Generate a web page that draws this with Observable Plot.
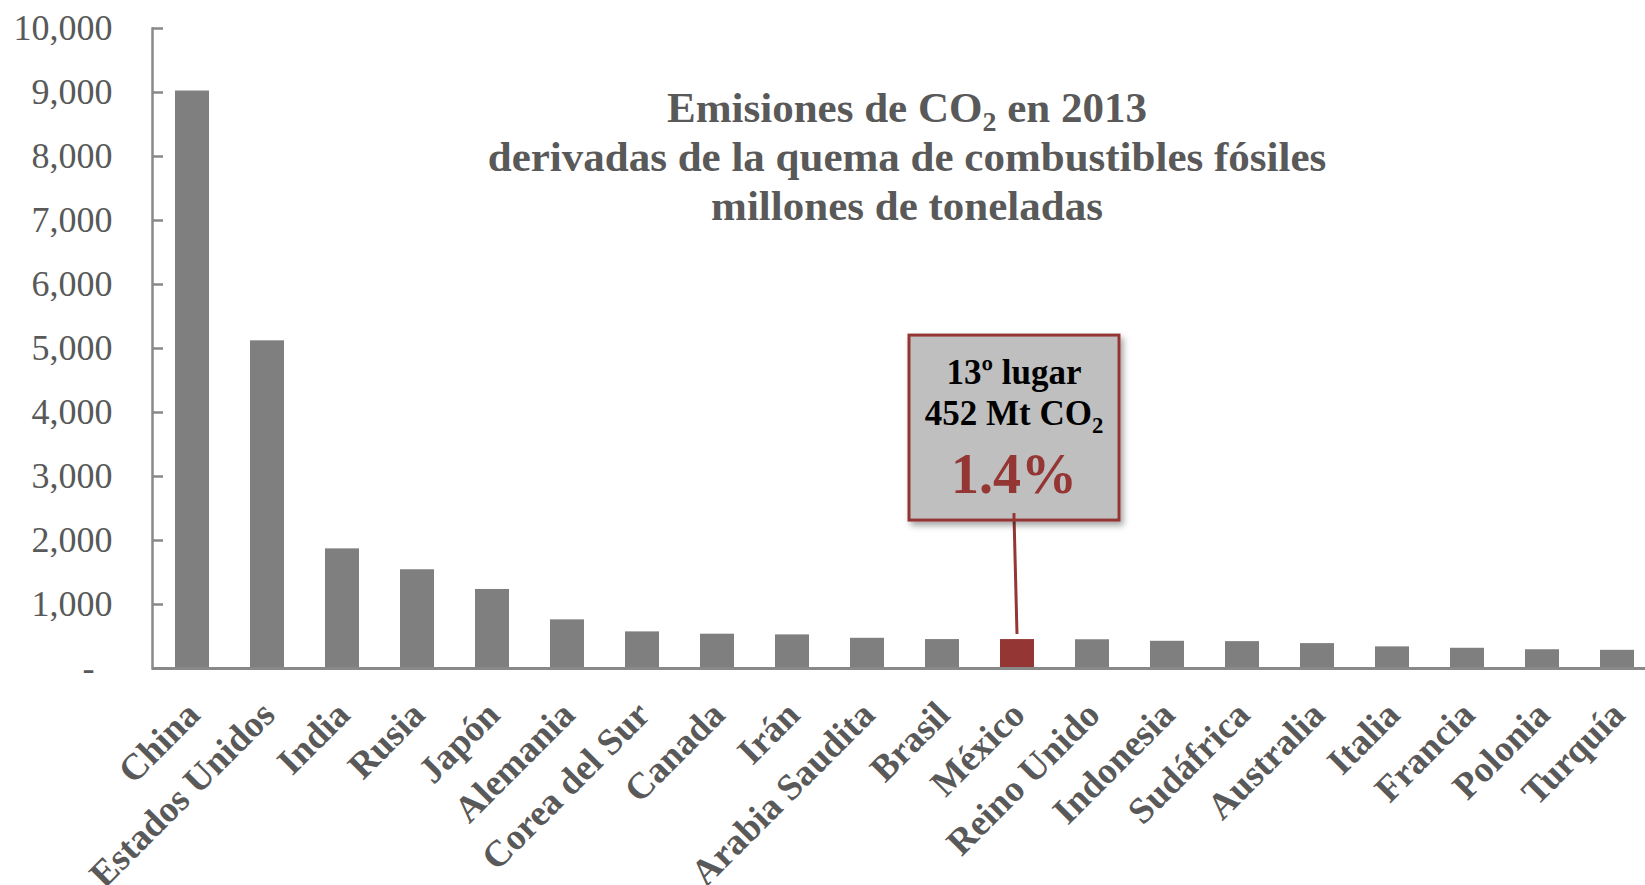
<!DOCTYPE html>
<html><head><meta charset="utf-8">
<script src="https://cdn.jsdelivr.net/npm/d3@7"></script>
<script src="https://cdn.jsdelivr.net/npm/@observablehq/plot@0.6"></script>
<style>body{margin:0;background:#fff;overflow:hidden}</style>
</head><body><div id="chart"></div>
<script>
// ---- data ----
const countries = ["China","Estados Unidos","India","Rusia","Japón","Alemania","Corea del Sur","Canada","Irán","Arabia Saudita","Brasil","México","Reino Unido","Indonesia","Sudáfrica","Australia","Italia","Francia","Polonia","Turquía"];
const emissions = [9023, 5120, 1869, 1543, 1235, 760, 572, 536, 525, 472, 452, 452, 449, 425, 420, 389, 338, 316, 293, 284];
const highlight = "México";
const yTicks = [0,1000,2000,3000,4000,5000,6000,7000,8000,9000,10000];
const titleLines = [["Emisiones de CO","2"," en 2013"],["derivadas de la quema de combustibles fósiles"],["millones de toneladas"]];
const annotationLines = [["13º lugar"],["452 Mt CO","2",""],["1.4%"]];

const data = countries.map((c, i) => ({country: c, value: emissions[i]}));
const serif = "'Liberation Serif','Times New Roman',serif";
const gray = "#7f7f7f", red = "#943634", textGray = "#595959", axisGray = "#898989";

const plot = Plot.plot({
  width: 1645, height: 885,
  marginTop: 28, marginBottom: 217, marginLeft: 152, marginRight: 0,
  style: {fontFamily: serif, background: "#fff"},
  x: {domain: countries, range: [152, 1656], paddingInner: 0.55, paddingOuter: 0.275, axis: null},
  y: {domain: [0, 10000], axis: null},
  marks: [
    Plot.barY(data, {x: "country", y: "value", fill: d => d.country === highlight ? red : gray}),
    Plot.ruleY([0], {stroke: axisGray, strokeWidth: 3}),
    Plot.frame({anchor: "left", stroke: axisGray, strokeWidth: 2.5}),
    Plot.axisY(yTicks, {tickSize: -11, tickFormat: () => "", stroke: axisGray, strokeWidth: 2.5, label: null}),
    Plot.axisY(yTicks, {tickSize: 0, tickPadding: 40, fontSize: 36, fill: textGray, label: null,
      tickFormat: d => d === 0 ? "-\u00a0\u00a0" : d3.format(",")(d)}),
    Plot.text(data, {x: "country", text: "country", frameAnchor: "bottom", rotate: -45, textAnchor: "end",
      lineAnchor: "middle", dx: 1, dy: 40, fontSize: 37, fontWeight: "bold", fill: textGray})
  ]
});
document.getElementById("chart").appendChild(plot);

// ---- title and annotation (layered on the SVG) ----
const svg = d3.select(plot);
const defs = svg.append("defs");
const f = defs.append("filter").attr("id", "shadow").attr("x", "-20%").attr("y", "-20%").attr("width", "150%").attr("height", "150%");
f.append("feDropShadow").attr("dx", 3).attr("dy", 4).attr("stdDeviation", 3).attr("flood-color", "#000").attr("flood-opacity", 0.35);

function richText(g, parts, x, y, size, fill) {
  const t = g.append("text").attr("x", x).attr("y", y).attr("text-anchor", "middle")
    .attr("font-family", serif).attr("font-weight", "bold").attr("font-size", size).attr("fill", fill);
  t.append("tspan").text(parts[0]);
  if (parts.length > 1) {
    t.append("tspan").attr("font-size", size * 0.65).attr("dy", size * 0.22).text(parts[1]);
    t.append("tspan").attr("dy", -size * 0.22).text(parts[2]);
  }
  return t;
}
const tg = svg.append("g");
const titleBaselines = [122, 171, 220];
titleLines.forEach((p, i) => richText(tg, p, 907, titleBaselines[i], 43, textGray));

const xs = plot.scale("x"), ys = plot.scale("y");
const mi = countries.indexOf(highlight);
const cx = xs.apply(highlight) + xs.bandwidth / 2;
const barTop = ys.apply(emissions[mi]);
const boxW = 210, boxH = 185, gap = 119;
const bx = cx - 3 - boxW / 2, by = barTop - gap - boxH;
const ag = svg.append("g");
ag.append("line").attr("x1", cx - 3).attr("y1", by + boxH - 4).attr("x2", cx).attr("y2", barTop - 5)
  .attr("stroke", red).attr("stroke-width", 3);
ag.append("rect").attr("x", bx).attr("y", by).attr("width", boxW).attr("height", boxH)
  .attr("fill", "#bfbfbf").attr("stroke", red).attr("stroke-width", 3).attr("filter", "url(#shadow)");
ag.append("line").attr("x1", cx - 3).attr("y1", by + boxH - 7).attr("x2", cx - 3).attr("y2", by + boxH)
  .attr("stroke", red).attr("stroke-width", 3);
const aBase = [49, 90, 158], aSize = [35, 35, 56], aFill = ["#000", "#000", red];
annotationLines.forEach((p, i) => richText(ag, p, cx - 3, by + aBase[i], aSize[i], aFill[i]));
</script>
</body></html>
